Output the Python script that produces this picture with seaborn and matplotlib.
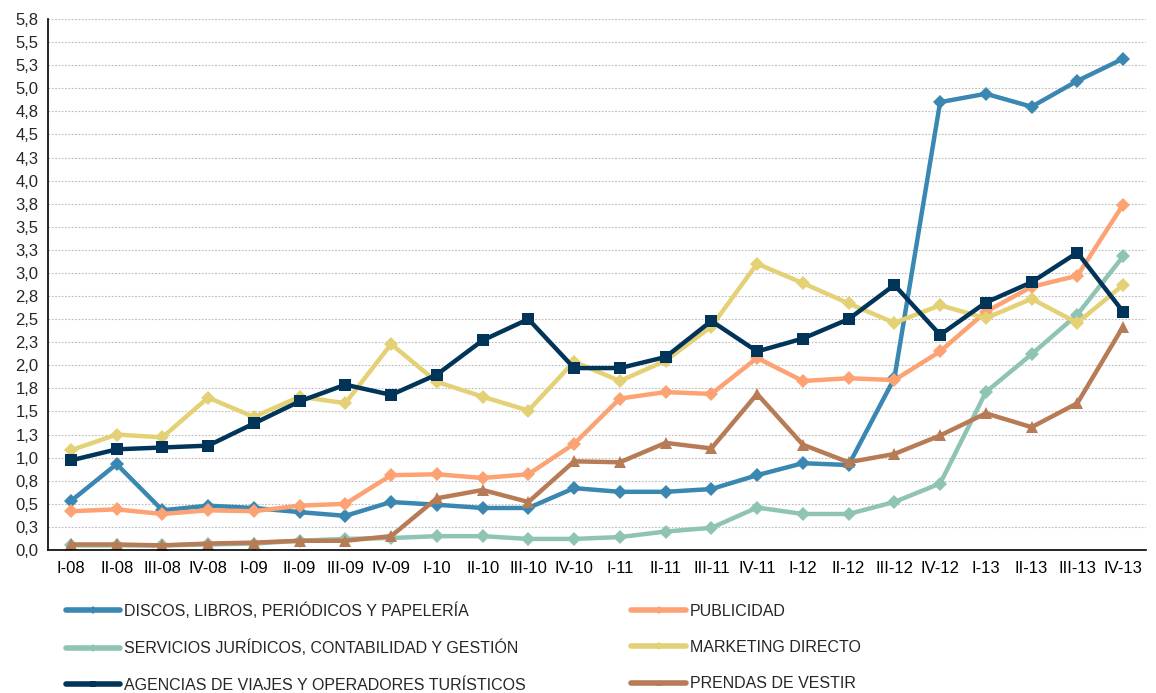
import matplotlib
matplotlib.use("Agg")
import matplotlib.pyplot as plt
from matplotlib.lines import Line2D
import seaborn as sns
import pandas as pd
import numpy as np

quarters = ["I-08", "II-08", "III-08", "IV-08", "I-09", "II-09", "III-09", "IV-09",
            "I-10", "II-10", "III-10", "IV-10", "I-11", "II-11", "III-11", "IV-11",
            "I-12", "II-12", "III-12", "IV-12", "I-13", "II-13", "III-13", "IV-13"]

discos = [0.53, 0.93, 0.43, 0.48, 0.455, 0.41, 0.37, 0.52, 0.49, 0.455, 0.455, 0.67,
          0.63, 0.63, 0.66, 0.81, 0.94, 0.92, 1.86, 4.85, 4.94, 4.80, 5.08, 5.32]
publicidad = [0.42, 0.44, 0.39, 0.43, 0.42, 0.48, 0.50, 0.81, 0.82, 0.78, 0.82, 1.15,
              1.64, 1.71, 1.69, 2.08, 1.83, 1.86, 1.84, 2.15, 2.58, 2.85, 2.97, 3.74]
servicios = [0.05, 0.05, 0.05, 0.06, 0.07, 0.10, 0.12, 0.13, 0.15, 0.15, 0.12, 0.12,
             0.14, 0.20, 0.24, 0.46, 0.39, 0.39, 0.52, 0.72, 1.71, 2.12, 2.55, 3.18]
marketing = [1.08, 1.25, 1.22, 1.65, 1.44, 1.66, 1.59, 2.23, 1.82, 1.66, 1.51, 2.04,
             1.83, 2.05, 2.42, 3.10, 2.89, 2.67, 2.46, 2.65, 2.51, 2.72, 2.46, 2.87]
agencias = [0.97, 1.09, 1.11, 1.13, 1.37, 1.61, 1.79, 1.68, 1.90, 2.27, 2.50, 1.97,
            1.97, 2.09, 2.48, 2.15, 2.29, 2.50, 2.87, 2.33, 2.68, 2.90, 3.22, 2.58]
prendas = [0.06, 0.06, 0.05, 0.07, 0.08, 0.10, 0.10, 0.15, 0.56, 0.65, 0.52, 0.96,
           0.95, 1.16, 1.10, 1.69, 1.14, 0.95, 1.04, 1.24, 1.48, 1.33, 1.59, 2.42]

series_names = ["DISCOS, LIBROS, PERIÓDICOS Y PAPELERÍA", "PUBLICIDAD",
                "SERVICIOS JURÍDICOS, CONTABILIDAD Y GESTIÓN", "MARKETING DIRECTO",
                "AGENCIAS DE VIAJES Y OPERADORES TURÍSTICOS", "PRENDAS DE VESTIR"]
series_values = [discos, publicidad, servicios, marketing, agencias, prendas]

y_ticks = [0.0, 0.25, 0.5, 0.75, 1.0, 1.25, 1.5, 1.75, 2.0, 2.25, 2.5, 2.75, 3.0,
           3.25, 3.5, 3.75, 4.0, 4.25, 4.5, 4.75, 5.0, 5.25, 5.5, 5.75]
y_tick_labels = ["0,0", "0,3", "0,5", "0,8", "1,0", "1,3", "1,5", "1,8", "2,0", "2,3",
                 "2,5", "2,8", "3,0", "3,3", "3,5", "3,8", "4,0", "4,3", "4,5", "4,8",
                 "5,0", "5,3", "5,5", "5,8"]

colors = ["#3A87B1", "#FCA273", "#8FC4B4", "#E4D075", "#003559", "#B77B55"]
markers = ["D", "D", "D", "D", "s", "^"]
msizes = [7.5, 7.5, 7.5, 7.5, 8.5, 8.5]

sns.set_style("white")
plt.rcParams["font.family"] = ["Liberation Sans", "DejaVu Sans"]

fig = plt.figure(figsize=(11.56, 6.93), dpi=100)
ax = fig.add_axes([48 / 1156, 1 - 550 / 693, (1146 - 48) / 1156, (550 - 19) / 693])

for name, vals, c, m, ms in zip(series_names, series_values, colors, markers, msizes):
    df = pd.DataFrame({"q": quarters, "v": vals})
    sns.lineplot(data=df, x="q", y="v", ax=ax, color=c, marker=m, markersize=ms,
                 linewidth=3.2, markeredgewidth=0, sort=False, legend=False)

ax.set_xlim(-0.5, len(quarters) - 0.5)
ax.set_ylim(0, 5.75)
ax.set_yticks(y_ticks)
ax.set_yticklabels(y_tick_labels)
ax.set_xticks(range(len(quarters)))
ax.set_xticklabels(quarters)
ax.set_xticks(np.arange(-0.5, len(quarters), 1.0), minor=True)
ax.tick_params(axis="x", which="major", length=0, pad=8, labelsize=12, colors="#000000")
ax.tick_params(axis="x", which="minor", length=5, width=1, color="#000000", direction="out")
ax.tick_params(axis="y", which="major", length=4, width=1, color="#000000",
               direction="out", labelsize=12, pad=3)
ax.set_xlabel("")
ax.set_ylabel("")
ax.grid(axis="y", color="#BBBBBB", linestyle=(0, (1.5, 1.5)), linewidth=0.8)
ax.set_axisbelow(True)
for s in ["top", "right"]:
    ax.spines[s].set_visible(False)
for s in ["left", "bottom"]:
    ax.spines[s].set_color("#000000")
    ax.spines[s].set_linewidth(1.2)

handles = [Line2D([0], [0], color=c, marker=m, markersize=4, linewidth=4,
                  markeredgewidth=0) for c, m in zip(colors, markers)]
order = [0, 2, 4, 1, 3, 5]
fig.legend([handles[i] for i in order], [series_names[i] for i in order],
           loc="upper left", bbox_to_anchor=(66 / 1156, 1 - 602 / 693), ncol=2,
           frameon=False, fontsize=11.5, handlelength=3.4, handletextpad=0.25,
           labelspacing=1.34, columnspacing=6.6, borderpad=0, borderaxespad=0)

fig.savefig("out.png", dpi=100)
